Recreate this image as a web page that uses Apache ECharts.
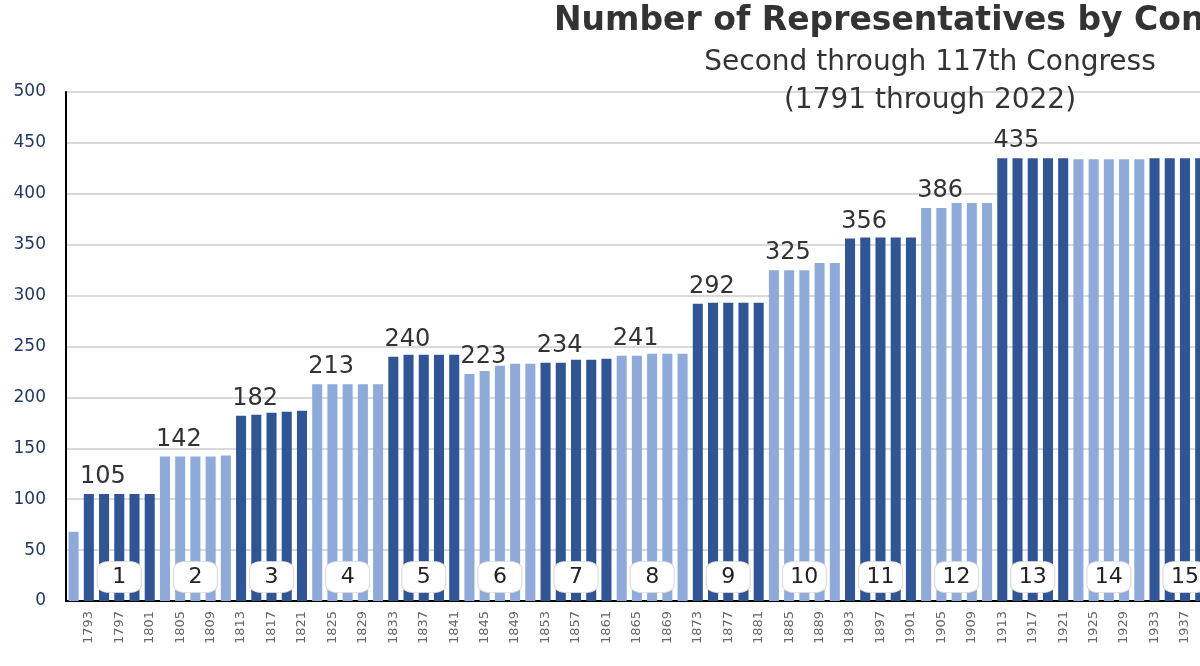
<!DOCTYPE html>
<html><head><meta charset="utf-8">
<script src="https://cdn.jsdelivr.net/npm/echarts@6/dist/echarts.min.js"></script>
<style>html,body{margin:0;padding:0;overflow:hidden;background:#fff}#c{width:1860px;height:666px}</style>
</head><body><div id="c"></div>
<script>
const years = [];
for (let y = 1791; y <= 2021; y += 2) years.push(String(y));
const seats = [
 68,
 105,105,105,105,105,
 142,142,142,142,143,
 182,183,185,186,187,
 213,213,213,213,213,
 240,242,242,242,242,
 223,226,231,233,233,
 234,234,237,237,238,
 241,241,243,243,243,
 292,293,293,293,293,
 325,325,325,332,332,
 356,357,357,357,357,
 386,386,391,391,391,
 435,435,435,435,435,
 434,434,434,434,434,
 435,435,435,435,435,
 435,435,435,435,435,
 435,435,435,437,437,
 435,435,435,435,435,
 435,435,435,435,435,
 435,435,435,435,435,
 435,435,435,435,435,
 435,435,435,435,435,
 435,435,435,435,435
];
const groupLabels = ['105','142','182','213','240','223','234','241','292','325','356','386','435','','','','','','','','','',''];
const groupNumbers = ['1','2','3','4','5','6','7','8','9','10','11','12','13','14','15','16','17','18','19','20','21','22','23'];
const DARK = '#2f5597', LIGHT = '#8eaadb';

const data = seats.map((v, i) => {
  const g = i === 0 ? -1 : Math.floor((i - 1) / 5);
  const first = i > 0 && (i - 1) % 5 === 0;
  const item = { value: v, itemStyle: { color: (g >= 0 && g % 2 === 0) ? DARK : LIGHT } };
  if (first && groupLabels[g]) item.label = { show: true, position: 'top', formatter: groupLabels[g], fontSize: 24, color: '#333', offset: [14, 0] };
  return item;
});
const marks = groupNumbers.map((n, g) => ({
  coord: [years[1 + g * 5 + 2], 23.5], value: n
}));

const chart = echarts.init(document.getElementById('c'));
chart.setOption({
  animation: false,
  title: {
    text: 'Number of Representatives by Congress',
    subtext: 'Second through 117th Congress\n(1791 through 2022)',
    left: 'center', top: 0, itemGap: 6,
    textStyle: { fontFamily: 'DejaVu Sans', fontWeight: 'bold', fontSize: 33, color: '#333' },
    subtextStyle: { fontFamily: 'DejaVu Sans', fontSize: 28, color: '#333', lineHeight: 38 }
  },
  grid: { left: 66, right: 28, top: 92, bottom: 65 },
  xAxis: {
    type: 'category', data: years,
    axisLine: { lineStyle: { color: '#000', width: 2 } },
    axisTick: { lineStyle: { color: '#000', width: 2 }, length: 6 },
    axisLabel: { rotate: 90, fontSize: 13, color: '#666', fontFamily: 'DejaVu Sans', interval: (i) => i % 2 === 1, margin: 10 }
  },
  yAxis: {
    type: 'value', min: 0, max: 500, interval: 50,
    axisLine: { show: true, lineStyle: { color: '#000', width: 2 } },
    axisLabel: { fontSize: 17, color: '#1f3864', fontFamily: 'DejaVu Sans', margin: 20 },
    splitLine: { lineStyle: { color: '#d9d9d9', width: 2 } }
  },
  series: [{
    type: 'bar', data: data, barCategoryGap: '34%',
    label: { fontFamily: 'DejaVu Sans' },
    markPoint: {
      symbol: 'roundRect', symbolSize: [44, 31],
      itemStyle: { color: '#fff', borderColor: '#ddd', borderWidth: 1 },
      label: { show: true, fontSize: 22, color: '#222', fontFamily: 'DejaVu Sans', formatter: p => p.value },
      data: marks
    }
  }]
});
</script></body></html>
